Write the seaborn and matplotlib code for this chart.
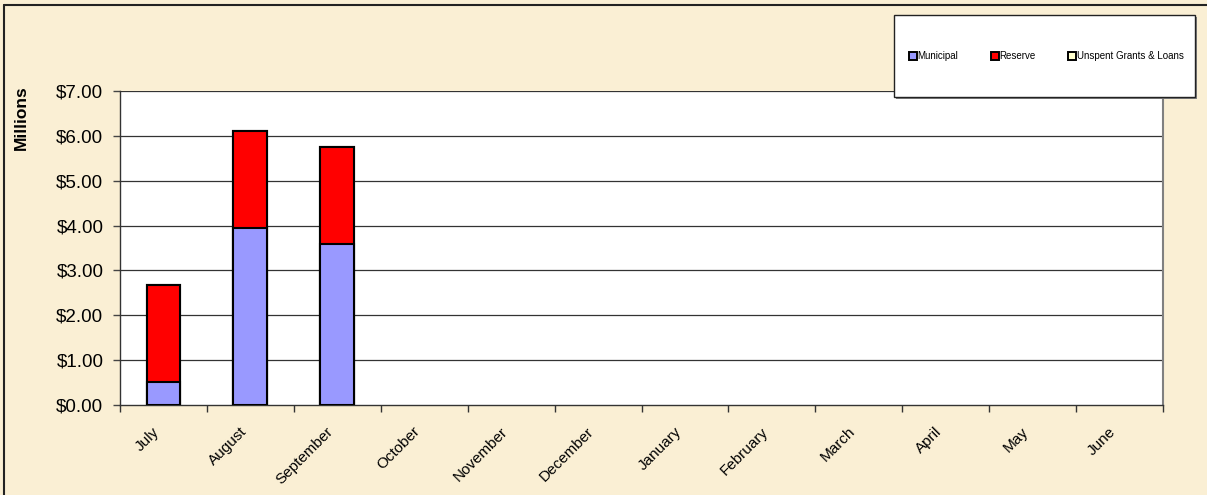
import matplotlib
matplotlib.use("Agg")
import matplotlib.pyplot as plt
import matplotlib.transforms as mtransforms
from matplotlib.patches import Rectangle
from matplotlib.lines import Line2D
from matplotlib.ticker import FuncFormatter, FixedLocator
import seaborn as sns
import pandas as pd
import numpy as np

months = ["July", "August", "September", "October", "November", "December",
          "January", "February", "March", "April", "May", "June"]
municipal = [0.52, 3.95, 3.60, 0, 0, 0, 0, 0, 0, 0, 0, 0]
reserve = [2.15, 2.15, 2.15, 0, 0, 0, 0, 0, 0, 0, 0, 0]
unspent = [0, 0, 0, 0, 0, 0, 0, 0, 0, 0, 0, 0]
series_names = ["Municipal", "Reserve", "Unspent Grants & Loans"]
series_colors = ["#9999FF", "#FF0000", "#FFFFCC"]
y_ticks = [0, 1, 2, 3, 4, 5, 6, 7]

sns.set_style("white")
plt.rcParams['font.family'] = ['Liberation Sans', 'DejaVu Sans']
plt.rcParams['text.color'] = 'black'
plt.rcParams['xtick.color'] = 'black'
plt.rcParams['ytick.color'] = 'black'

bg = "#FAEFD4"
fig = plt.figure(figsize=(12.07, 4.95), dpi=100, facecolor=bg)
ax = fig.add_axes([120/1207, 1 - 405/495, (1163-120)/1207, (405-91)/495])
ax.set_facecolor("white")

df = pd.DataFrame({"month": months, "municipal": municipal,
                   "reserve": reserve, "unspent": unspent})
df["top1"] = df["municipal"] + df["reserve"]
df["top2"] = df["top1"] + df["unspent"]
plot_df = df.replace(0, np.nan)

common = dict(x="month", order=months, width=0.39, edgecolor="black",
              linewidth=1.5, ax=ax, zorder=3, saturation=1)
sns.barplot(data=plot_df, y="top2", color=series_colors[2], **common)
sns.barplot(data=plot_df, y="top1", color=series_colors[1], **common)
sns.barplot(data=plot_df, y="municipal", color=series_colors[0], **common)

ax.set_ylim(0, 7)
ax.set_xlim(-0.5, len(months) - 0.5)
ax.set_yticks(y_ticks)
ax.yaxis.set_major_formatter(FuncFormatter(lambda v, p: f"${v:.2f}"))
ax.tick_params(axis="y", labelsize=13.5, length=5, width=1, color="#444444",
               direction="out", pad=7, left=True, labelcolor="black")
for y in y_ticks[1:]:
    ax.axhline(y, color="#333333", linewidth=0.9, zorder=1)

# x ticks at category boundaries, labels at centres
ax.xaxis.set_major_locator(FixedLocator(np.arange(-0.5, len(months), 1.0)))
ax.xaxis.set_minor_locator(FixedLocator(np.arange(len(months))))
ax.set_xticklabels([], minor=False)
ax.set_xticklabels(months, minor=True, rotation=45, ha="right",
                   rotation_mode="anchor", fontsize=11, color="black")
ax.tick_params(axis="x", which="major", length=5, width=1, color="#333333",
               direction="out", bottom=True)
ax.tick_params(axis="x", which="minor", length=0, pad=14)
offset = mtransforms.ScaledTranslation(-11/100, 0, fig.dpi_scale_trans)
for lab in ax.get_xticklabels(minor=True):
    lab.set_transform(lab.get_transform() + offset)
ax.set_xlabel("")
ax.set_ylabel("Millions", fontsize=12.5, fontweight="bold", color="black")
ax.yaxis.set_label_coords((29 - 120) / 1043, (405 - 118) / 314)

for s in ["left", "bottom"]:
    ax.spines[s].set_color("#333333")
    ax.spines[s].set_linewidth(1)
ax.spines["top"].set_visible(False)
ax.spines["right"].set_color("#808080")
ax.spines["right"].set_linewidth(1.5)

# outer frame lines (top and left)
fig.add_artist(Line2D([4/1207, 4/1207], [0, 1 - 5/495], transform=fig.transFigure,
                      color="#222222", linewidth=1.5))
fig.add_artist(Line2D([4/1207, 1], [1 - 5/495, 1 - 5/495], transform=fig.transFigure,
                      color="#222222", linewidth=1.5))

# legend box
lx0, ly0, lw, lh = 894/1207, 1 - 97/495, (1195-894)/1207, (97-15)/495
fig.add_artist(Rectangle((lx0 + 2/1207, ly0 - 2/495), lw, lh, transform=fig.transFigure,
                         facecolor="#808080", edgecolor="none", zorder=9))
fig.add_artist(Rectangle((lx0, ly0), lw, lh, transform=fig.transFigure,
                         facecolor="white", edgecolor="#222222", linewidth=1, zorder=10))
handles = [Line2D([], [], marker="s", linestyle="none", markersize=5.5,
                  markerfacecolor=c, markeredgecolor="black", markeredgewidth=1.4)
           for c in series_colors]
leg = fig.legend(handles, series_names, loc="center",
                 bbox_to_anchor=(lx0 + lw/2 + 2/1207, ly0 + lh/2), bbox_transform=fig.transFigure,
                 ncol=3, frameon=False, fontsize=7, handlelength=0.6,
                 handletextpad=0.15, columnspacing=3.5)
leg.set_zorder(11)

fig.savefig("out.png", dpi=100, facecolor=bg)
